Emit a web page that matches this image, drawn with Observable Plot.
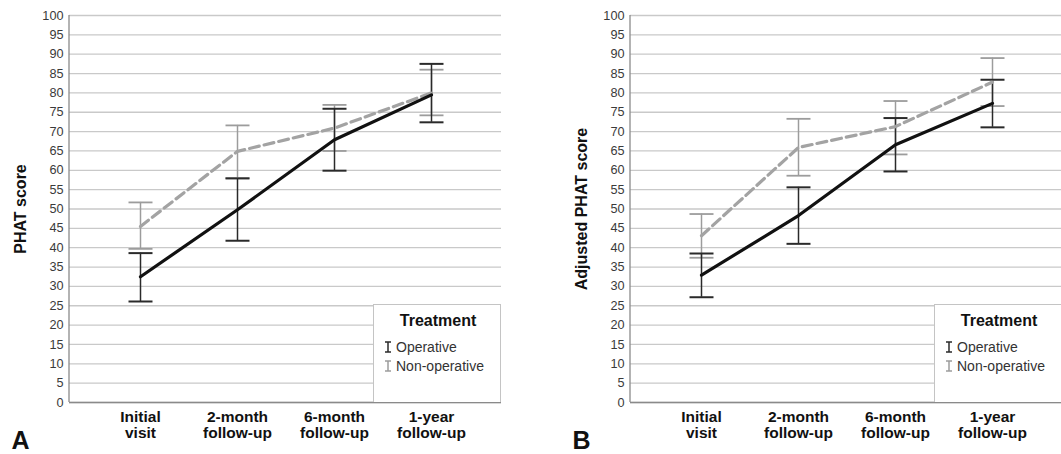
<!DOCTYPE html>
<html>
<head>
<meta charset="utf-8">
<script src="https://cdn.jsdelivr.net/npm/d3@7"></script>
<script src="https://cdn.jsdelivr.net/npm/@observablehq/plot@0.6"></script>
<style>
  html, body { margin: 0; padding: 0; background: #fff; }
  body { width: 1061px; height: 454px; overflow: hidden; position: relative; font-family: "Liberation Sans", Arial, sans-serif; }
  .panel { position: absolute; top: 0; width: 533px; height: 454px; }
  .legend { position: absolute; left: 373px; top: 304px; width: 128px; height: 98px; background: #fff;
            border: 1px solid #c4c4c4; border-bottom: none; box-sizing: border-box; }
  .legend .title { position: absolute; left: 0; width: 128px; top: 7px; text-align: center; font-weight: bold; font-size: 16px; color: #111; }
  .legend .item { position: absolute; left: 10px; font-size: 14px; color: #333; white-space: nowrap; display: flex; align-items: center; }
  .legend .item svg { margin-right: 4px; }
</style>
</head>
<body>
<div id="root"></div>
<script>
// ---- Data ----
const categories = ["Initial visit", "2-month follow-up", "6-month follow-up", "1-year follow-up"];
const tickLabels = ["Initial\nvisit", "2-month\nfollow-up", "6-month\nfollow-up", "1-year\nfollow-up"];
const groups = ["Operative", "Non-operative"];
const yTicks = [0, 5, 10, 15, 20, 25, 30, 35, 40, 45, 50, 55, 60, 65, 70, 75, 80, 85, 90, 95, 100];

// Panel A: PHAT score
const aOperativeMean = [32.5, 49.8, 67.9, 79.5];
const aOperativeLow  = [26.1, 41.8, 59.9, 72.4];
const aOperativeHigh = [38.6, 57.9, 75.9, 87.5];
const aNonOpMean = [45.5, 64.9, 70.9, 80.0];
const aNonOpLow  = [39.7, 58.0, 65.0, 74.2];
const aNonOpHigh = [51.7, 71.6, 76.9, 86.0];

// Panel B: Adjusted PHAT score
const bOperativeMean = [32.9, 48.3, 66.6, 77.3];
const bOperativeLow  = [27.2, 41.0, 59.7, 71.1];
const bOperativeHigh = [38.5, 55.6, 73.5, 83.4];
const bNonOpMean = [43.1, 65.9, 71.3, 82.8];
const bNonOpLow  = [37.4, 58.6, 64.1, 76.6];
const bNonOpHigh = [48.7, 73.3, 77.9, 89.0];

const lineColor = {"Operative": "#111", "Non-operative": "#a3a3a3"};
const barColor = {"Operative": "#2a2a2a", "Non-operative": "#9c9c9c"};

// horizontal cap symbol for error bars
const capSymbol = {draw(context) { context.moveTo(-12, 0); context.lineTo(12, 0); }};

function rowsFor(group, mean, low, high) {
  return categories.map((c, i) => ({group, cat: c, mean: mean[i], low: low[i], high: high[i]}));
}

function makePanel(left, letter, yLabel, op, nonop) {
  const opRows = rowsFor(groups[0], ...op);
  const nonRows = rowsFor(groups[1], ...nonop);
  const W = 533, H = 454, ML = 69, MR = 32, MT = 15, MB = 52;

  const errMarks = (rows, g, w) => [
    Plot.ruleX(rows, {x: "cat", y1: "low", y2: "high", stroke: barColor[g], strokeWidth: 1.5}),
    Plot.dot(rows, {x: "cat", y: "low", symbol: capSymbol, fill: "none", stroke: barColor[g], strokeWidth: w}),
    Plot.dot(rows, {x: "cat", y: "high", symbol: capSymbol, fill: "none", stroke: barColor[g], strokeWidth: w})
  ];

  const chart = Plot.plot({
    width: W, height: H,
    marginLeft: ML, marginRight: MR, marginTop: MT, marginBottom: MB,
    style: {fontFamily: "'Liberation Sans', Arial, sans-serif", background: "transparent", color: "#333"},
    x: {type: "point", domain: categories, padding: 0.72, label: null},
    y: {domain: [0, 100], label: null},
    marks: [
      Plot.gridY(yTicks, {stroke: "#c9c9c9", strokeOpacity: 1, strokeWidth: 1.3}),
      Plot.axisY(yTicks, {tickSize: 0, tickPadding: 6, fontSize: 12.7, fill: "#3a3a3a", label: null}),
      Plot.axisX({tickSize: 0, tickPadding: 8, fontSize: 15.5, fontWeight: "bold", fill: "#111", lineHeight: 1.04,
                  tickFormat: d => tickLabels[categories.indexOf(d)], label: null}),
      Plot.ruleY([0], {stroke: "#8a8a8a", strokeWidth: 1.3}),
      ...errMarks(nonRows, groups[1], 1.8),
      ...errMarks(opRows, groups[0], 2),
      Plot.lineY(nonRows, {x: "cat", y: "mean", stroke: lineColor[groups[1]], strokeWidth: 3.2, strokeDasharray: "10,5"}),
      Plot.lineY(opRows, {x: "cat", y: "mean", stroke: lineColor[groups[0]], strokeWidth: 3.2}),
      Plot.text([yLabel], {frameAnchor: "left", rotate: -90, dx: -49, fontSize: 16, fontWeight: "bold", fill: "#111", textAnchor: "middle", lineAnchor: "middle"}),
      Plot.text([letter], {frameAnchor: "bottom-left", dx: -49, dy: 38, fontSize: 25, fontWeight: "bold", fill: "#111", textAnchor: "middle", lineAnchor: "middle"})
    ]
  });

  // left axis line
  d3.select(chart).append("line")
    .attr("x1", ML).attr("x2", ML).attr("y1", MT).attr("y2", H - MB)
    .attr("stroke", "#8a8a8a").attr("stroke-width", 1.3);

  const panel = document.createElement("div");
  panel.className = "panel";
  panel.style.left = left + "px";
  panel.appendChild(chart);

  const legend = document.createElement("div");
  legend.className = "legend";
  legend.innerHTML = `<div class="title">Treatment</div>` +
    groups.map((g, i) => `<div class="item" style="top:${34 + i * 19}px">` +
      `<svg width="8" height="12"><line x1="4" x2="4" y1="1" y2="11" stroke="${barColor[g]}" stroke-width="1.5"/>` +
      `<line x1="1" x2="7" y1="1" y2="1" stroke="${barColor[g]}" stroke-width="1.5"/>` +
      `<line x1="1" x2="7" y1="11" y2="11" stroke="${barColor[g]}" stroke-width="1.5"/></svg>${g}</div>`).join("");
  panel.appendChild(legend);
  document.getElementById("root").appendChild(panel);
}

makePanel(0, "A", "PHAT score",
  [aOperativeMean, aOperativeLow, aOperativeHigh],
  [aNonOpMean, aNonOpLow, aNonOpHigh]);
makePanel(561, "B", "Adjusted PHAT score",
  [bOperativeMean, bOperativeLow, bOperativeHigh],
  [bNonOpMean, bNonOpLow, bNonOpHigh]);
</script>
</body>
</html>
